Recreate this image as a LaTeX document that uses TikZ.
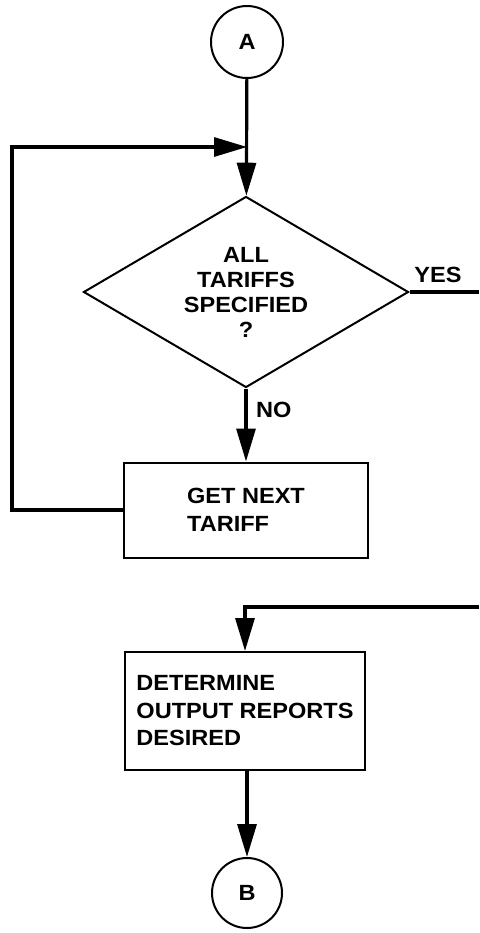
\documentclass[tikz,border=0pt]{standalone}
\usepackage{fontspec}
\setmainfont{Liberation Sans}[FakeStretch=1.07]
\usetikzlibrary{arrows.meta,shapes.geometric}
\begin{document}
\begin{tikzpicture}[x=1pt,y=-1pt,
  every node/.style={font=\bfseries\fontsize{22}{27.5}\selectfont},
  shapeline/.style={draw,line width=2pt},
  conn/.style={line width=3.2pt},
  flow/.style={conn,-{Triangle[length=33pt,width=19pt]}},
  connector/.style={shapeline,circle,minimum size=72pt,inner sep=0pt},
  process/.style={shapeline,rectangle,align=left,inner sep=0pt},
  decision/.style={shapeline,diamond,aspect=1.7,align=center,inner sep=0pt,
    minimum width=325pt,minimum height=191pt,
    font=\bfseries\fontsize{22}{25}\selectfont},
  lbl/.style={inner sep=0pt},
]
\useasboundingbox (0,0) rectangle (479,933);

% shapes
\node[connector] (A) at (247,42) {A};
\node[decision] (dec) at (246,292) {ALL\\TARIFFS\\SPECIFIED\\?};
\node[process,minimum width=244pt,minimum height=95pt] (get) at (246,510) {GET NEXT\\TARIFF};
\node[process,minimum width=240pt,minimum height=118pt] (det) at (245,711) {DETERMINE\\OUTPUT REPORTS\\DESIRED};
\node[connector,minimum size=70pt] (B) at (247,893) {B};

% helper points of the loops
\coordinate (loopbl) at (12,510);
\coordinate (looptl) at (12,147);
\coordinate (merge) at (247,147);
\coordinate (yesend) at (479,292);
\coordinate (entry) at (479,607);
\coordinate (turn) at (245,607);

% connectors
\draw[flow] (A) -- (dec);
\draw[flow] (get.west) -- (loopbl) -- (looptl) -- (merge);
\draw[conn] (dec.east) -- (yesend);
\draw[flow] (dec.south) -- (get.north);
\draw[flow] (entry) -- (turn) -- (det.north);
\draw[flow] (B.north |- det.south) -- (B.north);

% branch labels
\node[lbl] (yes) at (438,275) {YES};
\node[lbl,anchor=west] (no) at (256,410) {NO};
\end{tikzpicture}
\end{document}
